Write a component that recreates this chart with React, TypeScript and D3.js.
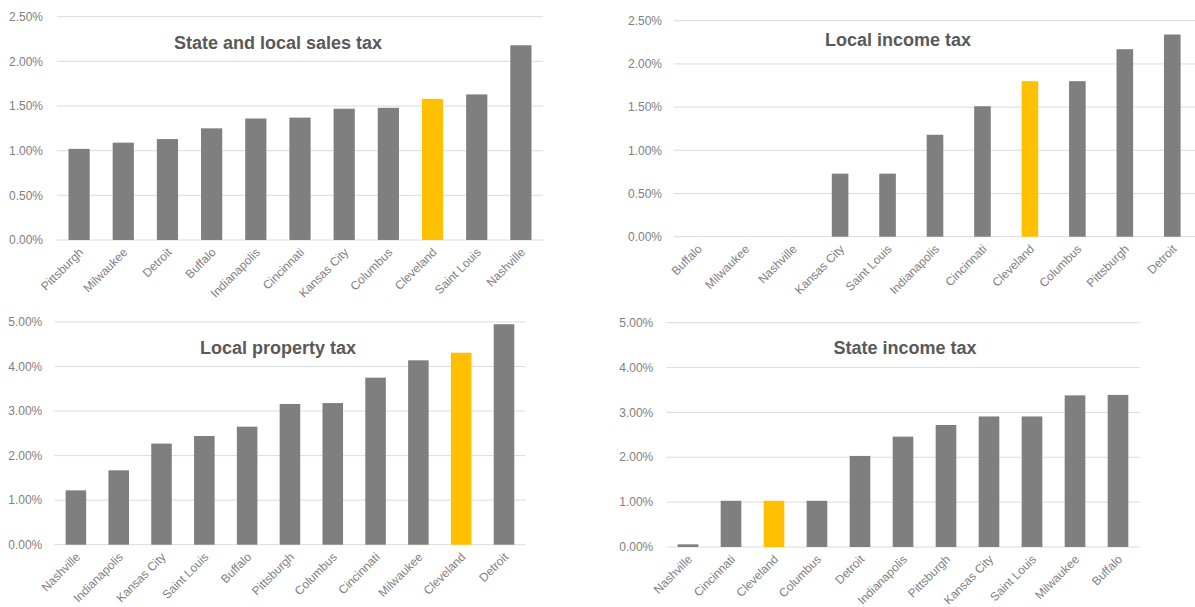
import * as d3 from "d3";
import React from "react";

// values in percent
const salesCities = ["Pittsburgh", "Milwaukee", "Detroit", "Buffalo", "Indianapolis", "Cincinnati", "Kansas City", "Columbus", "Cleveland", "Saint Louis", "Nashville"];
const salesValues = [1.02, 1.09, 1.13, 1.25, 1.36, 1.37, 1.47, 1.48, 1.58, 1.63, 2.18];

const localIncomeCities = ["Buffalo", "Milwaukee", "Nashville", "Kansas City", "Saint Louis", "Indianapolis", "Cincinnati", "Cleveland", "Columbus", "Pittsburgh", "Detroit"];
const localIncomeValues = [0, 0, 0, 0.73, 0.73, 1.18, 1.51, 1.8, 1.8, 2.17, 2.34];

const propertyCities = ["Nashville", "Indianapolis", "Kansas City", "Saint Louis", "Buffalo", "Pittsburgh", "Columbus", "Cincinnati", "Milwaukee", "Cleveland", "Detroit"];
const propertyValues = [1.22, 1.67, 2.27, 2.44, 2.65, 3.16, 3.18, 3.75, 4.14, 4.31, 4.95];

const stateIncomeCities = ["Nashville", "Cincinnati", "Cleveland", "Columbus", "Detroit", "Indianapolis", "Pittsburgh", "Kansas City", "Saint Louis", "Milwaukee", "Buffalo"];
const stateIncomeValues = [0.06, 1.03, 1.03, 1.03, 2.03, 2.46, 2.72, 2.91, 2.91, 3.38, 3.39];

const highlightCity = "Cleveland";

type PanelProps = {
  title: string;
  cities: string[];
  values: number[];
  yMax: number;
  x0: number;
  x1: number;
  yTop: number;
  yBottom: number;
  labelX: number;
  titleX: number;
  titleY: number;
  pad: number;
};

const GRID = "#dcdcdc";
const BAR = "#7f7f7f";
const GOLD = "#ffc000";
const TEXT = "#808080";
const FONT = "'Liberation Sans', Arial, sans-serif";

const Panel: React.FC<PanelProps> = (p) => {
  const x = d3.scaleBand<string>().domain(p.cities).range([p.x0, p.x1]).paddingInner(p.pad).paddingOuter(p.pad / 2);
  const y = d3.scaleLinear().domain([0, p.yMax]).range([p.yBottom, p.yTop]);
  const fmt = d3.format(".2f");
  return (
    <g>
      {y.ticks(5).map((t) => (
        <g key={t}>
          <line x1={p.x0} x2={p.x1} y1={y(t)} y2={y(t)} stroke={GRID} strokeWidth={1} />
          <text x={p.labelX} y={y(t)} dy="0.35em" textAnchor="end" fontSize={12} fill={TEXT} fontFamily={FONT}>
            {fmt(t) + "%"}
          </text>
        </g>
      ))}
      {p.cities.map((c, i) => (
        <rect
          key={c}
          x={x(c)}
          width={x.bandwidth()}
          y={y(p.values[i])}
          height={p.yBottom - y(p.values[i])}
          fill={c === highlightCity ? GOLD : BAR}
        />
      ))}
      {p.cities.map((c) => {
        const cx = (x(c) ?? 0) + x.bandwidth() / 2;
        return (
          <text
            key={"l" + c}
            transform={`translate(${cx + 5},${p.yBottom + 13}) rotate(-45)`}
            textAnchor="end"
            fontSize={12}
            fill={TEXT}
            fontFamily={FONT}
          >
            {c}
          </text>
        );
      })}
      <text x={p.titleX} y={p.titleY} dy="0.35em" textAnchor="middle" fontSize={18} fontWeight="bold" fill="#595959" fontFamily={FONT}>
        {p.title}
      </text>
    </g>
  );
};

export default function App() {
  return (
    <svg width={1195} height={607} style={{ position: "absolute", left: 0, top: 0, background: "#fff" }}>
      <Panel title="State and local sales tax" cities={salesCities} values={salesValues} yMax={2.5}
        x0={57} x1={543} yTop={16.7} yBottom={240} labelX={43} titleX={278} titleY={43} pad={0.52} />
      <Panel title="Local income tax" cities={localIncomeCities} values={localIncomeValues} yMax={2.5}
        x0={674} x1={1196} yTop={20.7} yBottom={236.7} labelX={662} titleX={898} titleY={40} pad={0.65} />
      <Panel title="Local property tax" cities={propertyCities} values={propertyValues} yMax={5}
        x0={54.5} x1={525.4} yTop={322} yBottom={544.7} labelX={42.3} titleX={278} titleY={348} pad={0.52} />
      <Panel title="State income tax" cities={stateIncomeCities} values={stateIncomeValues} yMax={5}
        x0={666.5} x1={1139.5} yTop={322.7} yBottom={547} labelX={653.3} titleX={905} titleY={348} pad={0.52} />
    </svg>
  );
}
